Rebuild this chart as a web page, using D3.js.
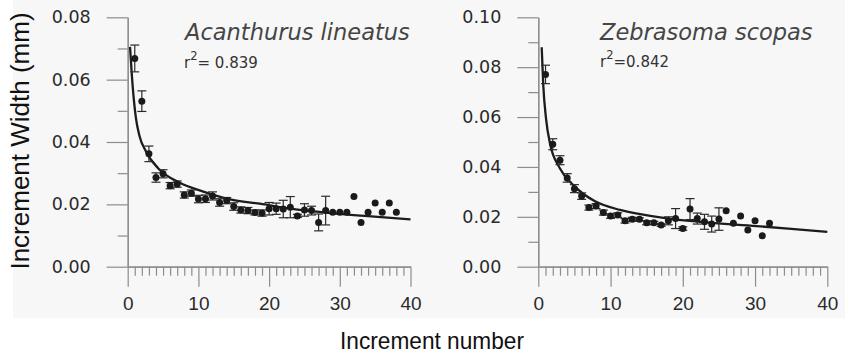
<!DOCTYPE html>
<html>
<head>
<meta charset="utf-8">
<script src="https://cdn.jsdelivr.net/npm/d3@7"></script>
<style>
  body { margin: 0; background: #fff; }
  svg { display: block; }
</style>
</head>
<body>
<div id="chart"></div>
<script>
// increment numbers and mean widths (mm)
const acanthurusIncrement = [1, 2, 3, 4, 5, 6, 7, 8, 9, 10, 11, 12, 13, 14, 15, 16, 17, 18, 19, 20,
    21, 22, 23, 24, 25, 26, 27, 28, 29, 30, 31, 32, 33, 34, 35, 36, 37, 38];
const acanthurusMean = [0.0668, 0.0531, 0.0362, 0.0286, 0.0298, 0.0260, 0.0265, 0.0230, 0.0236, 0.0217,
    0.0218, 0.0227, 0.0206, 0.0212, 0.0193, 0.0182, 0.0180, 0.0174, 0.0172, 0.0186,
    0.0186, 0.0185, 0.0191, 0.0163, 0.0182, 0.0180, 0.0142, 0.0180, 0.0175, 0.0175,
    0.0175, 0.0225, 0.0142, 0.0175, 0.0204, 0.0175, 0.0204, 0.0175];
const acanthurusErr = [0.0043, 0.0033, 0.0025, 0.0015, 0.0013, 0.0010, 0.0010, 0.0010, 0.0010, 0.0012,
    0.0012, 0.0013, 0.0012, 0.0010, 0.0012, 0.0010, 0.0010, 0.0008, 0.0010, 0.0020,
    0.0018, 0.0028, 0.0034, 0.0005, 0.0020, 0.0014, 0.0027, 0.0046, 0, 0,
    0, 0, 0, 0, 0, 0, 0, 0];
// fitted curve
const acanthurusFitX = [0.33, 0.7, 1.17, 1.64, 2.6, 4.3, 7.3, 10.7, 14.5, 18.7, 23, 28.6, 34, 40];
const acanthurusFitY = [0.0705, 0.058, 0.0476, 0.0422, 0.0369, 0.0316, 0.027, 0.0241, 0.0216, 0.0202,
    0.0186, 0.0172, 0.0162, 0.0152];

const zebrasomaIncrement = [1, 2, 3, 4, 5, 6, 7, 8, 9, 10, 11, 12, 13, 14, 15, 16, 17, 18, 19, 20,
    21, 22, 23, 24, 25, 26, 27, 28, 29, 30, 31, 32];
const zebrasomaMean = [0.0771, 0.0491, 0.0427, 0.0356, 0.0313, 0.0283, 0.0237, 0.0243, 0.0217, 0.0203,
    0.0207, 0.0184, 0.0190, 0.0190, 0.0176, 0.0176, 0.0167, 0.0184, 0.0193, 0.0153,
    0.0231, 0.0193, 0.0180, 0.0171, 0.0191, 0.0224, 0.0174, 0.0203, 0.0147, 0.0184,
    0.0124, 0.0174];
const zebrasomaErr = [0.0037, 0.0022, 0.0018, 0.0017, 0.0016, 0.0013, 0.0010, 0.0010, 0.0010, 0.0009,
    0.0009, 0.0009, 0.0008, 0.0006, 0.0008, 0.0006, 0.0005, 0.0016, 0.0040, 0.0007,
    0.0042, 0.0022, 0.0030, 0.0032, 0.0045, 0, 0, 0, 0, 0,
    0, 0];
const zebrasomaFitX = [0.47, 0.69, 1.07, 1.62, 3.0, 4.85, 7.85, 11.3, 14.1, 17.8, 22.4, 30.2, 35, 40];
const zebrasomaFitY = [0.088, 0.0727, 0.0594, 0.0494, 0.0394, 0.0327, 0.0262, 0.0228, 0.0211, 0.0194,
    0.018, 0.0163, 0.0152, 0.014];

// tick values
const xMajorTicks = [0, 10, 20, 30, 40];
const xMinorTicks = [1, 2, 3, 4, 5, 6, 7, 8, 9, 11, 12, 13, 14, 15, 16, 17, 18, 19,
    21, 22, 23, 24, 25, 26, 27, 28, 29, 31, 32, 33, 34, 35, 36, 37, 38, 39];
const leftYMajor = [0, 0.02, 0.04, 0.06, 0.08];
const leftYMinor = [0.01, 0.03, 0.05, 0.07];
const rightYMajor = [0, 0.02, 0.04, 0.06, 0.08, 0.10];
const rightYMinor = [0.01, 0.03, 0.05, 0.07, 0.09];

const width = 845, height = 354;

const svg = d3.select("#chart").append("svg")
    .attr("width", width)
    .attr("height", height);

svg.append("rect").attr("width", width).attr("height", height).attr("fill", "#fff");
svg.append("rect")
    .attr("x", 13).attr("y", 0)
    .attr("width", width - 13).attr("height", 318)
    .attr("fill", "#f7f7f7");

function drawPanel(opts) {
    const x = d3.scaleLinear().domain([0, 40]).range(opts.xRange);
    const y = d3.scaleLinear().domain([0, opts.yMax]).range([266.7, 17.3]);
    const g = svg.append("g");

    // y axis
    const yMajor = g.append("g")
        .attr("transform", `translate(${opts.xRange[0]},0)`)
        .call(d3.axisLeft(y).tickValues(opts.yMajor).tickSize(21).tickSizeOuter(0)
            .tickPadding(16).tickFormat(d3.format(".2f")));
    g.append("g")
        .attr("transform", `translate(${opts.xRange[0]},0)`)
        .call(d3.axisLeft(y).tickValues(opts.yMinor).tickSize(10).tickSizeOuter(0).tickFormat(""));

    // x axis
    const xMajor = g.append("g")
        .attr("transform", `translate(0,${y(0)})`)
        .call(d3.axisBottom(x).tickValues(xMajorTicks).tickSize(20).tickSizeOuter(0).tickPadding(10));
    g.append("g")
        .attr("transform", `translate(0,${y(0)})`)
        .call(d3.axisBottom(x).tickValues(xMinorTicks).tickSize(9).tickSizeOuter(0).tickFormat(""));

    g.selectAll(".domain, .tick line").attr("stroke", "#8c8c8c").attr("stroke-width", 1.2);
    yMajor.selectAll("text")
        .attr("font-family", "DejaVu Sans")
        .attr("font-size", 17.5)
        .attr("fill", "#2a2a2a");
    xMajor.selectAll("text")
        .attr("font-family", "Liberation Sans")
        .attr("font-size", 19)
        .attr("fill", "#2a2a2a");

    // fitted curve
    const fit = opts.fitX.map((v, i) => [v, opts.fitY[i]]);
    g.append("path")
        .datum(fit)
        .attr("fill", "none")
        .attr("stroke", "#1c1c1c")
        .attr("stroke-width", 2.3)
        .attr("d", d3.line().x(d => x(d[0])).y(d => y(d[1])).curve(d3.curveMonotoneX));

    const points = opts.inc.map((v, i) => ({ n: v, mean: opts.mean[i], err: opts.err[i] }));
    const bars = points.filter(d => d.err > 0);

    // error bars
    const eb = g.append("g").attr("stroke", "#2a2a2a").attr("stroke-width", 1.2);
    eb.selectAll("line.v").data(bars).enter().append("line")
        .attr("x1", d => x(d.n)).attr("x2", d => x(d.n))
        .attr("y1", d => y(d.mean + d.err)).attr("y2", d => y(d.mean - d.err));
    eb.selectAll("line.t").data(bars).enter().append("line")
        .attr("x1", d => x(d.n) - 4.5).attr("x2", d => x(d.n) + 4.5)
        .attr("y1", d => y(d.mean + d.err)).attr("y2", d => y(d.mean + d.err));
    eb.selectAll("line.b").data(bars).enter().append("line")
        .attr("x1", d => x(d.n) - 4.5).attr("x2", d => x(d.n) + 4.5)
        .attr("y1", d => y(d.mean - d.err)).attr("y2", d => y(d.mean - d.err));

    g.selectAll("circle").data(points).enter().append("circle")
        .attr("cx", d => x(d.n))
        .attr("cy", d => y(d.mean))
        .attr("r", 3.5)
        .attr("fill", "#1a1a1a");

    // labels
    g.append("text")
        .attr("x", opts.titleX).attr("y", 40)
        .attr("font-family", "DejaVu Sans")
        .attr("font-style", "italic")
        .attr("font-size", 22.5)
        .attr("fill", "#454545")
        .text(opts.title);

    const r2 = g.append("text")
        .attr("x", opts.r2X).attr("y", opts.r2Y)
        .attr("font-family", "DejaVu Sans")
        .attr("font-size", 15)
        .attr("fill", "#333");
    r2.append("tspan").text("r");
    r2.append("tspan").attr("dy", -8).attr("font-size", 11.5).text("2");
    r2.append("tspan").attr("dy", 8).text(opts.r2Text);
}

drawPanel({
    xRange: [127.7, 410.5], yMax: 0.08,
    yMajor: leftYMajor, yMinor: leftYMinor,
    inc: acanthurusIncrement, mean: acanthurusMean, err: acanthurusErr,
    fitX: acanthurusFitX, fitY: acanthurusFitY,
    title: "Acanthurus lineatus", titleX: 185,
    r2X: 184, r2Y: 68, r2Text: "= 0.839"
});

drawPanel({
    xRange: [538.3, 827.3], yMax: 0.10,
    yMajor: rightYMajor, yMinor: rightYMinor,
    inc: zebrasomaIncrement, mean: zebrasomaMean, err: zebrasomaErr,
    fitX: zebrasomaFitX, fitY: zebrasomaFitY,
    title: "Zebrasoma scopas", titleX: 600,
    r2X: 600, r2Y: 67, r2Text: "=0.842"
});

// axis titles
svg.append("text")
    .attr("transform", "translate(29,141) rotate(-90)")
    .attr("text-anchor", "middle")
    .attr("font-family", "Liberation Sans")
    .attr("font-size", 26)
    .attr("fill", "#111")
    .text("Increment Width (mm)");

svg.append("text")
    .attr("x", 432).attr("y", 349)
    .attr("text-anchor", "middle")
    .attr("font-family", "Liberation Sans")
    .attr("font-size", 24)
    .attr("textLength", 184)
    .attr("lengthAdjust", "spacingAndGlyphs")
    .attr("fill", "#111")
    .text("Increment number");
</script>
</body>
</html>
